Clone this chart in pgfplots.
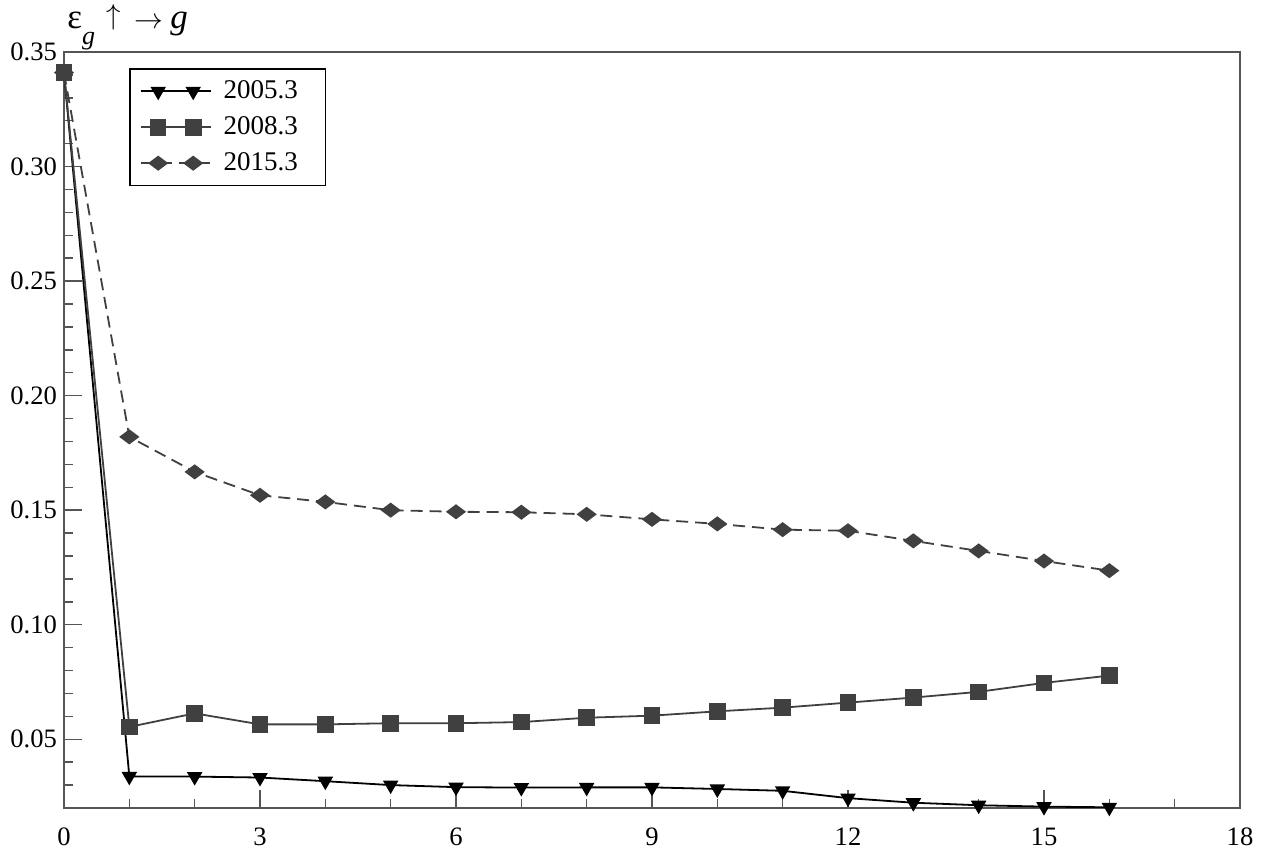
\documentclass[border=0pt]{standalone}
\usepackage{pgfplots}
\pgfplotsset{compat=1.18}
\usepackage{fontspec}
\setmainfont{Liberation Serif}
\definecolor{dg}{HTML}{404040}
\definecolor{ax}{HTML}{555555}
\begin{document}
\begin{tikzpicture}
\begin{axis}[
  scale only axis, width=588pt, height=378pt,
  xmin=0, xmax=18, ymin=0.02, ymax=0.35,
  xtick={0,3,6,9,12,15,18},
  minor xtick={1,2,4,5,7,8,10,11,13,14,16,17},
  ytick={0.05,0.10,0.15,0.20,0.25,0.30,0.35},
  minor ytick={0.02,0.03,0.04,0.06,0.07,0.08,0.09,0.11,0.12,0.13,0.14,0.16,0.17,0.18,0.19,0.21,0.22,0.23,0.24,0.26,0.27,0.28,0.29,0.31,0.32,0.33,0.34},
  tick align=inside, tick pos=left,
  major tick length=9pt, minor tick length=4.5pt,
  every tick/.style={draw=ax, line width=0.7pt},
  axis line style={draw=ax, line width=0.9pt},
  /pgf/number format/assume math mode=true,
  ticklabel style={font=\fontsize{13.3}{15}\selectfont},
  xticklabel style={yshift=-6.5pt},
  yticklabel style={/pgf/number format/.cd, fixed, fixed zerofill, precision=2},
  scaled y ticks=false,
  legend style={at={(rel axis cs:0,1)}, anchor=north west, xshift=32.5pt, yshift=-8pt,
    draw=black, line width=0.8pt, inner xsep=5pt, inner ysep=4pt, row sep=3.5pt,
    font=\fontsize{13.5}{15}\selectfont},
  legend cell align=left,
  legend image code/.code={\draw[mark repeat=2, mark phase=2, #1] plot coordinates {(0pt,0pt) (8.75pt,0pt) (17.5pt,0pt) (26.25pt,0pt) (35pt,0pt)};},
]
\addplot[black, line width=0.9pt, mark=triangle*, mark size=3.6pt, mark options={rotate=180, solid, fill=black}]
coordinates {(0,0.341) (1,0.0338) (2,0.0337) (3,0.0333) (4,0.0317) (5,0.0300) (6,0.0291) (7,0.0289) (8,0.0290) (9,0.0290) (10,0.0283) (11,0.0275) (12,0.0243) (13,0.0223) (14,0.0212) (15,0.0206) (16,0.0203)};
\addlegendentry{\hspace*{4pt}\makebox[44pt][l]{2005.3}}
\addplot[dg, line width=0.9pt, mark=square*, mark size=3.7pt, mark options={solid, fill=dg}]
coordinates {(0,0.341) (1,0.0554) (2,0.0613) (3,0.0565) (4,0.0565) (5,0.0570) (6,0.0570) (7,0.0575) (8,0.0594) (9,0.0603) (10,0.0622) (11,0.0638) (12,0.0660) (13,0.0682) (14,0.0707) (15,0.0746) (16,0.0778)};
\addlegendentry{\hspace*{4pt}\makebox[44pt][l]{2008.3}}
\addplot[dg, line width=0.9pt, dash pattern=on 6pt off 3.5pt, mark=diamond*, mark size=4.3pt, mark options={solid, rotate=90, fill=dg}]
coordinates {(0,0.341) (1,0.182) (2,0.1667) (3,0.1565) (4,0.1536) (5,0.1500) (6,0.1493) (7,0.1491) (8,0.1482) (9,0.1460) (10,0.1440) (11,0.1415) (12,0.1410) (13,0.1366) (14,0.1322) (15,0.1278) (16,0.1236)};
\addlegendentry{\hspace*{4pt}\makebox[44pt][l]{2015.3}}
\end{axis}
\node[anchor=base west, inner sep=0pt, font=\fontsize{17.5}{19}\selectfont] at ([xshift=1.5pt, yshift=11.5pt]current axis.north west) {ε\raisebox{-8pt}{\fontsize{13}{15}\selectfont\itshape g}\hspace{5.5pt}\raisebox{2pt}{\fontsize{15}{17}\selectfont$\uparrow$}\hspace{7pt}{\fontsize{15.5}{17}\selectfont$\rightarrow$}\hspace{3.5pt}{\itshape g}};
\pgfresetboundingbox
\path[use as bounding box] ([xshift=-32pt,yshift=-23pt]current axis.south west) rectangle ([xshift=17pt,yshift=26pt]current axis.north east);
\end{tikzpicture}
\end{document}
